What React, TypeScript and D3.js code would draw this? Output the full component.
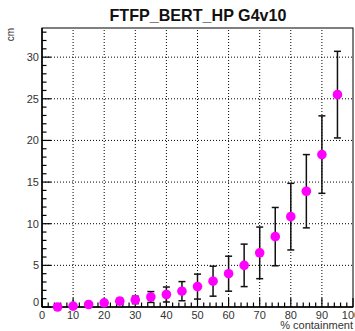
import * as d3 from "d3";

// containment fraction (%) and the radius (cm) with its spread
const containment = [5, 10, 15, 20, 25, 30, 35, 40, 45, 50, 55, 60, 65, 70, 75, 80, 85, 90, 95];
const radius = [0.0, 0.1, 0.3, 0.5, 0.7, 0.85, 1.2, 1.5, 1.9, 2.45, 3.1, 4.0, 5.0, 6.5, 8.45, 10.85, 13.9, 18.3, 25.5];
const spread = [0.0, 0.05, 0.15, 0.25, 0.35, 0.45, 0.65, 0.9, 1.15, 1.5, 1.8, 2.1, 2.55, 3.1, 3.5, 4.0, 4.4, 4.65, 5.2];

const xTicks = [0, 10, 20, 30, 40, 50, 60, 70, 80, 90, 100];
const yTicks = [0, 5, 10, 15, 20, 25, 30];

const W = 355;
const H = 331;
const margin = { top: 28, right: 2, bottom: 24, left: 42 };

export default function App() {
  const x = d3.scaleLinear().domain([0, 100]).range([margin.left, W - margin.right]);
  const y = d3.scaleLinear().domain([0, 33.5]).range([H - margin.bottom, margin.top]);
  const x0 = margin.left;
  const x1 = W - margin.right;
  const y0 = H - margin.bottom;
  const y1 = margin.top;

  const xMinor = d3.range(0, 101, 2).filter((v) => v % 10 !== 0);
  const yMinor = d3.range(0, 34, 1).filter((v) => v % 5 !== 0);
  const font = "Liberation Sans, Arial, sans-serif";

  return (
    <svg
      width={W}
      height={H}
      style={{ position: "absolute", left: 0, top: 0, background: "#fff" }}
      fontFamily={font}
    >
      <text x={198} y={21} textAnchor="middle" fontSize={17} fontWeight="bold" fill="#111" textLength={177} lengthAdjust="spacingAndGlyphs">
        FTFP_BERT_HP G4v10
      </text>

      {/* grid */}
      {xTicks.slice(1, -1).map((t) => (
        <line key={"gx" + t} x1={x(t)} x2={x(t)} y1={y0} y2={y1} stroke="#000" strokeWidth={1} strokeDasharray="1,2" />
      ))}
      {yTicks.slice(1).map((t) => (
        <line key={"gy" + t} x1={x0} x2={x1} y1={y(t)} y2={y(t)} stroke="#000" strokeWidth={1} strokeDasharray="1,2" />
      ))}

      {/* frame */}
      <rect x={x0} y={y1} width={x1 - x0} height={y0 - y1} fill="none" stroke="#000" strokeWidth={1} />

      {/* y ticks */}
      {yTicks.map((t) => (
        <line key={"ty" + t} x1={x0} x2={x0 + 9} y1={y(t)} y2={y(t)} stroke="#000" strokeWidth={1.2} />
      ))}
      {yMinor.map((t) => (
        <line key={"my" + t} x1={x0} x2={x0 + 4.5} y1={y(t)} y2={y(t)} stroke="#000" strokeWidth={1.2} />
      ))}
      {yTicks.map((t) => (
        <text key={"ly" + t} x={x0 - 3} y={y(t) + (t === 0 ? -1 : 4)} textAnchor="end" fontSize={11} fill="#333">
          {t}
        </text>
      ))}

      {/* x ticks */}
      {xTicks.map((t) => (
        <line key={"tx" + t} x1={x(t)} x2={x(t)} y1={y0} y2={y0 - 9} stroke="#000" strokeWidth={1.2} />
      ))}
      {xMinor.map((t) => (
        <line key={"mx" + t} x1={x(t)} x2={x(t)} y1={y0} y2={y0 - 4.5} stroke="#000" strokeWidth={1.2} />
      ))}
      {xTicks.map((t) => (
        <text key={"lx" + t} x={x(t) + (t === 100 ? -2 : 0)} y={y0 + 12} textAnchor="middle" fontSize={11} fill="#333">
          {t}
        </text>
      ))}

      <line x1={x0} x2={x0} y1={y0} y2={y1} stroke="#000" strokeWidth={1.5} />
      <line x1={x0} x2={x1} y1={y0} y2={y0} stroke="#000" strokeWidth={1.5} />

      <text x={x1} y={H - 2} textAnchor="end" fontSize={11} fill="#333">
        % containment
      </text>
      <text transform={`translate(14,${y1}) rotate(-90)`} textAnchor="end" fontSize={10} fill="#333">
        cm
      </text>

      {/* error bars */}
      {containment.map((c, i) => {
        const e = spread[i];
        if (e <= 0) return null;
        const cx = x(c);
        const top = y(radius[i] + e);
        const bot = y(Math.max(0, radius[i] - e));
        return (
          <g key={"e" + c} stroke="#111" strokeWidth={1.5}>
            <line x1={cx} x2={cx} y1={top} y2={bot} />
            <line x1={cx - 3.5} x2={cx + 3.5} y1={top} y2={top} />
            <line x1={cx - 3.5} x2={cx + 3.5} y1={bot} y2={bot} />
          </g>
        );
      })}

      {/* points */}
      {containment.map((c, i) => (
        <circle key={"p" + c} cx={x(c)} cy={y(radius[i])} r={4.8} fill="#ff00ff" />
      ))}
    </svg>
  );
}
